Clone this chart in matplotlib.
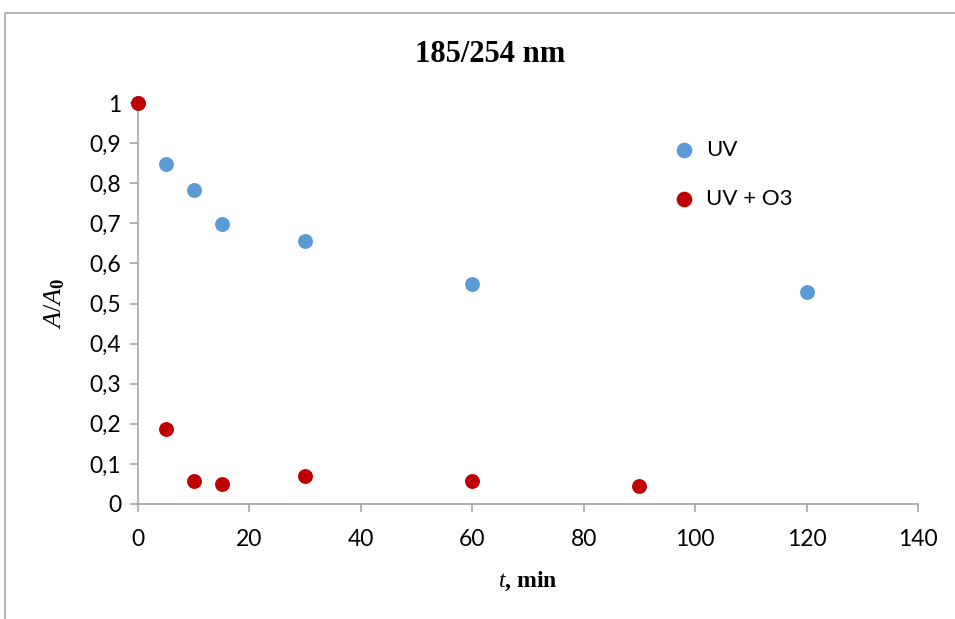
import matplotlib
matplotlib.use('Agg')
import matplotlib.pyplot as plt
from matplotlib.patches import Rectangle
from matplotlib.ticker import FuncFormatter

plt.rcParams['mathtext.fontset'] = 'custom'
plt.rcParams['mathtext.rm'] = 'Liberation Serif'
plt.rcParams['mathtext.it'] = 'Liberation Serif:italic'
plt.rcParams['mathtext.bf'] = 'Liberation Serif:bold'

# data
t_uv = [0, 5, 10, 15, 30, 60, 120]
a_uv = [1.0, 0.848, 0.784, 0.698, 0.656, 0.549, 0.529]
t_o3 = [0, 5, 10, 15, 30, 60, 90]
a_o3 = [1.0, 0.188, 0.057, 0.049, 0.069, 0.057, 0.045]

x_ticks = [0, 20, 40, 60, 80, 100, 120, 140]
y_ticks = [0, 0.1, 0.2, 0.3, 0.4, 0.5, 0.6, 0.7, 0.8, 0.9, 1]

blue = '#5B9BD5'
red = '#C00000'
grey = '#A6A6A6'
tick_font = 'Lato'

fig = plt.figure(figsize=(9.55, 6.19), dpi=100)

# chart area border (only top and left visible in the crop)
fig.patches.append(Rectangle((5 / 955, -0.1), 1.2, 1 - 13 / 619 + 0.1,
                             transform=fig.transFigure, fill=False,
                             edgecolor=grey, linewidth=1.2))

ax = fig.add_axes([138 / 955, 1 - 504 / 619, (918 - 138) / 955, (504 - 103) / 619])

ax.scatter(t_uv, a_uv, s=115, color=blue, label='UV', zorder=3, clip_on=False, linewidths=0)
ax.scatter(t_o3, a_o3, s=115, color=red, label='UV + O3', zorder=4, clip_on=False, linewidths=0)

ax.set_xlim(0, 140)
ax.set_ylim(0, 1)
ax.set_xticks(x_ticks)
ax.set_yticks(y_ticks)
ax.yaxis.set_major_formatter(FuncFormatter(lambda v, p: ('%g' % v).replace('.', ',')))

for s in ['top', 'right']:
    ax.spines[s].set_visible(False)
for s in ['left', 'bottom']:
    ax.spines[s].set_color(grey)
    ax.spines[s].set_linewidth(1.2)

ax.tick_params(direction='out', length=6, width=1.2, color=grey, labelsize=16.5, pad=6)
for lab in ax.get_xticklabels() + ax.get_yticklabels():
    lab.set_fontfamily(tick_font)
ax.tick_params(axis='x', pad=12)

fig.text(490 / 955, 1 - 55 / 619, '185/254 nm', ha='center', va='center',
         fontsize=22, fontweight='bold', family='Liberation Serif')

ax.set_xlabel(r'$\mathit{t}$, min', fontsize=17, fontweight='bold',
              family='Liberation Serif', labelpad=14)
ax.set_ylabel(r'$\mathit{A}/\mathit{A}_\mathbf{0}$', fontsize=19,
              family='Liberation Serif', labelpad=16)

leg = ax.legend(loc='upper left', bbox_to_anchor=(0.66, 0.93), frameon=False,
                prop={'family': tick_font, 'size': 16}, handletextpad=0.0,
                labelspacing=1.3, markerscale=1.05, borderaxespad=0)

fig.savefig('out.png', dpi=100)
